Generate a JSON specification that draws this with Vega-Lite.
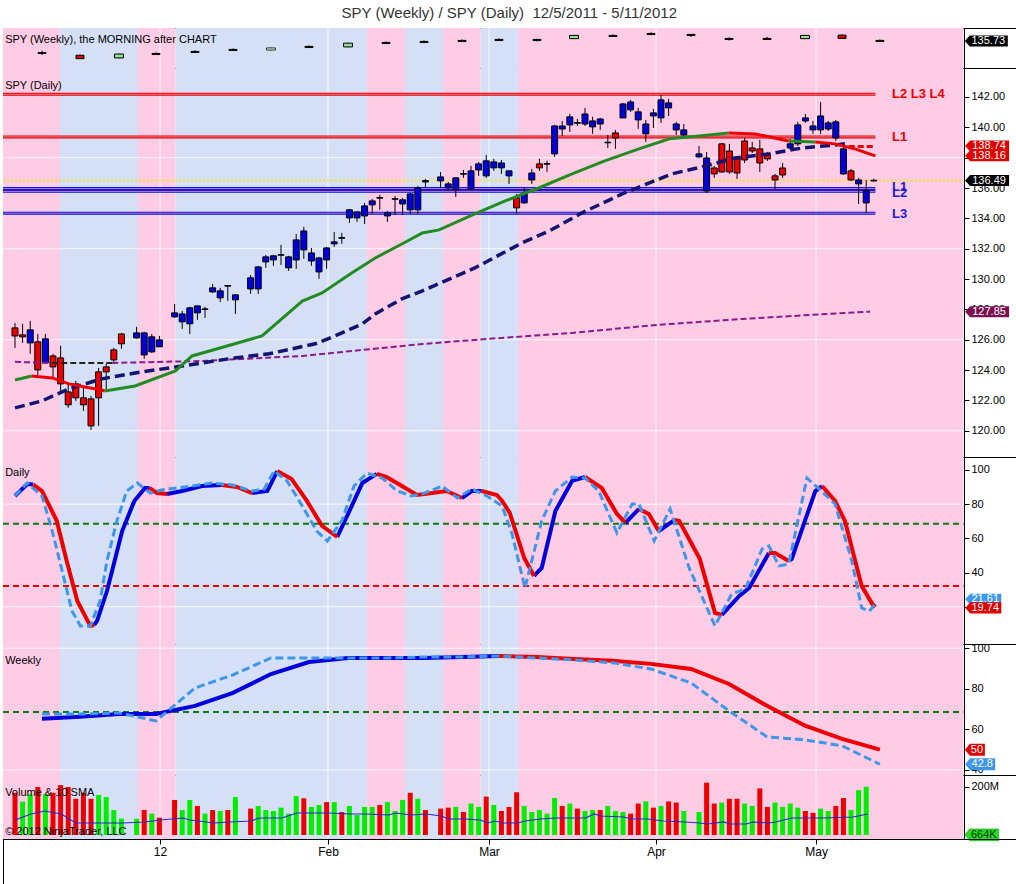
{
"$schema":"https://vega.github.io/schema/vega-lite/v6.json",
"padding":{"left":1,"top":6,"right":1,"bottom":1},
"background":"white",
"title":{"text":"SPY (Weekly) / SPY (Daily) \u00a012/5/2011 - 5/11/2012","font":"Liberation Sans","fontSize":15,"fontWeight":"normal","color":"#333333","anchor":"middle","offset":6},
"spacing":0,
"bounds":"flush",
"config":{"view":{"stroke":"black","strokeWidth":1},"scale":{"continuousPadding":0},"axis":{"labelFont":"Liberation Sans","labelFontSize":11,"labelColor":"black","tickColor":"black","domainColor":"black","grid":false,"labelOverlap":false},"text":{"font":"Liberation Sans"}},
"datasets":{
"bands":[{"a":-1.58,"b":5.92,"t":"p"},{"a":5.92,"b":16.18,"t":"b"},{"a":16.18,"b":21.12,"t":"p"},{"a":21.12,"b":46.32,"t":"b"},{"a":46.32,"b":51.32,"t":"p"},{"a":51.32,"b":56.32,"t":"b"},{"a":56.32,"b":61.25,"t":"p"},{"a":61.25,"b":66.18,"t":"b"},{"a":66.18,"b":124.8,"t":"p"}],
"months":[{"m":19.08,"n":"12"},{"m":41.18,"n":"Feb"},{"m":62.37,"n":"Mar"},{"m":84.34,"n":"Apr"},{"m":105.4,"n":"May"}],
"weekly":[
{"s":3.55,"o":126.5,"c":125.8,"h":128.1,"l":124.5,"k":"blk"},
{"s":8.55,"o":124.3,"c":121.6,"h":124.9,"l":121.2,"k":"red"},
{"s":13.68,"o":125.3,"c":122.2,"h":125.6,"l":121.9,"k":"grn"},
{"s":18.55,"o":125.8,"c":124.9,"h":126.6,"l":124.9,"k":"blk"},
{"s":23.68,"o":127.4,"c":126.5,"h":128.2,"l":126.5,"k":"blk"},
{"s":28.68,"o":129.0,"c":128.1,"h":129.8,"l":128.1,"k":"blk"},
{"s":33.68,"o":130.2,"c":128.5,"h":130.5,"l":128.3,"k":"lgr"},
{"s":38.68,"o":131.4,"c":130.5,"h":132.2,"l":130.5,"k":"blk"},
{"s":43.82,"o":134.0,"c":131.0,"h":134.3,"l":130.7,"k":"grn"},
{"s":48.82,"o":134.6,"c":133.7,"h":135.4,"l":133.7,"k":"blk"},
{"s":53.82,"o":135.4,"c":134.5,"h":136.2,"l":134.5,"k":"blk"},
{"s":58.82,"o":136.2,"c":135.3,"h":137.0,"l":135.3,"k":"blk"},
{"s":63.68,"o":137.0,"c":136.1,"h":137.8,"l":136.1,"k":"blk"},
{"s":68.68,"o":137.0,"c":136.1,"h":137.4,"l":135.4,"k":"blk"},
{"s":73.55,"o":140.2,"c":137.6,"h":140.5,"l":137.4,"k":"grn"},
{"s":78.68,"o":140.2,"c":139.3,"h":141.0,"l":139.3,"k":"blk"},
{"s":83.68,"o":141.8,"c":140.9,"h":142.6,"l":140.9,"k":"blk"},
{"s":88.95,"o":141.0,"c":140.1,"h":141.3,"l":139.0,"k":"blk"},
{"s":93.95,"o":137.8,"c":136.9,"h":138.6,"l":136.1,"k":"blk"},
{"s":98.95,"o":137.8,"c":136.9,"h":139.0,"l":136.9,"k":"blk"},
{"s":103.95,"o":140.2,"c":137.6,"h":140.5,"l":137.4,"k":"grn"},
{"s":108.82,"o":140.4,"c":137.8,"h":141.2,"l":137.8,"k":"red"},
{"s":113.8,"o":136.2,"c":135.3,"h":137.0,"l":135.3,"k":"blk"}],
"candles":[
{"s":0,"o":126.78,"c":126.25,"h":127.11,"l":125.46,"k":"r"},
{"s":1,"o":126.32,"c":126.19,"h":127.05,"l":125.79,"k":"r"},
{"s":2,"o":126.65,"c":125.79,"h":127.24,"l":125.07,"k":"b"},
{"s":3,"o":125.86,"c":124.01,"h":126.38,"l":123.68,"k":"r"},
{"s":4,"o":126.06,"c":124.47,"h":126.38,"l":124.41,"k":"b"},
{"s":5,"o":124.93,"c":124.21,"h":125.07,"l":123.45,"k":"r"},
{"s":6,"o":124.80,"c":123.09,"h":125.60,"l":122.63,"k":"r"},
{"s":7,"o":122.56,"c":121.71,"h":123.09,"l":121.51,"k":"r"},
{"s":8,"o":123.09,"c":122.17,"h":123.29,"l":121.97,"k":"r"},
{"s":9,"o":122.17,"c":121.71,"h":122.83,"l":121.31,"k":"r"},
{"s":10,"o":122.10,"c":120.32,"h":122.30,"l":120.06,"k":"r"},
{"s":11,"o":123.88,"c":122.17,"h":124.14,"l":120.32,"k":"r"},
{"s":12,"o":124.21,"c":123.88,"h":124.41,"l":122.63,"k":"r"},
{"s":13,"o":125.33,"c":124.67,"h":125.46,"l":124.41,"k":"r"},
{"s":14,"o":126.38,"c":125.73,"h":126.45,"l":125.40,"k":"r"},
{"s":16,"o":126.45,"c":126.12,"h":126.85,"l":126.06,"k":"b"},
{"s":17,"o":126.45,"c":125.00,"h":126.52,"l":124.74,"k":"b"},
{"s":18,"o":126.19,"c":125.20,"h":126.38,"l":125.13,"k":"b"},
{"s":19,"o":125.99,"c":125.53,"h":126.25,"l":125.53,"k":"b"},
{"s":21,"o":127.77,"c":127.51,"h":128.36,"l":127.44,"k":"b"},
{"s":22,"o":127.70,"c":127.18,"h":127.90,"l":126.71,"k":"b"},
{"s":23,"o":128.10,"c":127.05,"h":128.17,"l":126.38,"k":"b"},
{"s":24,"o":128.23,"c":127.77,"h":128.23,"l":127.31,"k":"b"},
{"s":25,"o":128.03,"c":128.00,"h":128.17,"l":127.44,"k":"b"},
{"s":26,"o":129.42,"c":129.15,"h":129.68,"l":129.09,"k":"b"},
{"s":27,"o":129.22,"c":128.76,"h":129.42,"l":128.49,"k":"b"},
{"s":28,"o":129.57,"c":129.53,"h":129.61,"l":128.56,"k":"b"},
{"s":29,"o":128.96,"c":128.63,"h":128.96,"l":127.70,"k":"b"},
{"s":31,"o":130.08,"c":129.35,"h":130.27,"l":129.02,"k":"b"},
{"s":32,"o":130.80,"c":129.35,"h":130.87,"l":129.02,"k":"b"},
{"s":33,"o":131.46,"c":131.13,"h":131.59,"l":130.74,"k":"b"},
{"s":34,"o":131.53,"c":131.26,"h":131.59,"l":130.87,"k":"b"},
{"s":35,"o":131.61,"c":131.57,"h":132.25,"l":130.93,"k":"b"},
{"s":36,"o":131.46,"c":130.74,"h":131.53,"l":130.54,"k":"b"},
{"s":37,"o":132.58,"c":131.26,"h":132.97,"l":130.67,"k":"b"},
{"s":38,"o":133.17,"c":131.92,"h":133.44,"l":131.33,"k":"b"},
{"s":39,"o":131.72,"c":131.19,"h":132.05,"l":130.87,"k":"b"},
{"s":40,"o":131.39,"c":130.47,"h":131.46,"l":130.01,"k":"b"},
{"s":41,"o":132.05,"c":131.26,"h":132.12,"l":130.67,"k":"b"},
{"s":42,"o":132.45,"c":132.32,"h":133.10,"l":132.12,"k":"b"},
{"s":43,"o":132.73,"c":132.69,"h":133.04,"l":132.32,"k":"b"},
{"s":44,"o":134.56,"c":134.03,"h":134.62,"l":133.70,"k":"b"},
{"s":45,"o":134.42,"c":134.03,"h":134.49,"l":133.77,"k":"b"},
{"s":46,"o":134.82,"c":134.16,"h":135.02,"l":133.63,"k":"b"},
{"s":47,"o":135.15,"c":134.89,"h":135.28,"l":134.29,"k":"b"},
{"s":48,"o":135.37,"c":135.33,"h":135.55,"l":134.56,"k":"b"},
{"s":49,"o":134.36,"c":134.16,"h":134.49,"l":133.77,"k":"b"},
{"s":50,"o":135.30,"c":135.26,"h":135.48,"l":134.23,"k":"b"},
{"s":51,"o":135.22,"c":134.95,"h":135.35,"l":134.23,"k":"b"},
{"s":52,"o":135.61,"c":134.56,"h":135.68,"l":134.29,"k":"b"},
{"s":53,"o":136.01,"c":134.56,"h":136.14,"l":134.29,"k":"b"},
{"s":54,"o":136.49,"c":136.40,"h":136.60,"l":136.01,"k":"b"},
{"s":56,"o":136.73,"c":136.47,"h":137.06,"l":136.01,"k":"b"},
{"s":57,"o":136.27,"c":136.01,"h":136.40,"l":135.81,"k":"b"},
{"s":58,"o":136.67,"c":135.88,"h":136.67,"l":135.41,"k":"b"},
{"s":59,"o":136.95,"c":136.91,"h":137.19,"l":136.67,"k":"b"},
{"s":60,"o":137.13,"c":135.94,"h":137.46,"l":135.88,"k":"b"},
{"s":61,"o":137.59,"c":137.19,"h":137.72,"l":136.80,"k":"b"},
{"s":62,"o":137.79,"c":136.80,"h":138.18,"l":136.67,"k":"b"},
{"s":63,"o":137.72,"c":137.33,"h":137.92,"l":137.13,"k":"b"},
{"s":64,"o":137.65,"c":137.33,"h":137.85,"l":136.93,"k":"b"},
{"s":65,"o":137.13,"c":136.80,"h":137.13,"l":136.27,"k":"b"},
{"s":66,"o":135.35,"c":134.69,"h":135.61,"l":134.29,"k":"r"},
{"s":67,"o":135.61,"c":135.02,"h":136.01,"l":134.95,"k":"b"},
{"s":68,"o":136.99,"c":136.53,"h":137.26,"l":136.27,"k":"b"},
{"s":69,"o":137.59,"c":137.33,"h":137.92,"l":137.13,"k":"r"},
{"s":70,"o":137.61,"c":137.57,"h":137.79,"l":137.06,"k":"b"},
{"s":71,"o":140.09,"c":138.25,"h":140.16,"l":138.05,"k":"b"},
{"s":72,"o":140.09,"c":139.89,"h":140.42,"l":139.43,"k":"b"},
{"s":73,"o":140.69,"c":140.16,"h":140.88,"l":139.70,"k":"b"},
{"s":74,"o":140.31,"c":140.27,"h":140.55,"l":140.09,"k":"b"},
{"s":75,"o":140.88,"c":140.22,"h":141.28,"l":140.09,"k":"b"},
{"s":76,"o":140.42,"c":140.03,"h":140.69,"l":139.57,"k":"b"},
{"s":77,"o":140.55,"c":140.22,"h":140.62,"l":139.83,"k":"b"},
{"s":78,"o":139.02,"c":138.98,"h":139.50,"l":138.64,"k":"b"},
{"s":79,"o":139.63,"c":139.30,"h":139.83,"l":138.58,"k":"r"},
{"s":80,"o":141.54,"c":140.62,"h":141.61,"l":140.62,"k":"b"},
{"s":81,"o":141.67,"c":141.15,"h":141.81,"l":141.02,"k":"b"},
{"s":82,"o":141.02,"c":140.49,"h":141.28,"l":139.90,"k":"b"},
{"s":83,"o":140.22,"c":139.57,"h":140.49,"l":139.04,"k":"b"},
{"s":84,"o":140.95,"c":140.75,"h":141.21,"l":139.96,"k":"b"},
{"s":85,"o":141.81,"c":140.62,"h":142.13,"l":140.29,"k":"b"},
{"s":86,"o":141.61,"c":141.28,"h":141.87,"l":140.75,"k":"b"},
{"s":87,"o":140.22,"c":139.83,"h":140.36,"l":139.50,"k":"b"},
{"s":88,"o":139.83,"c":139.50,"h":140.22,"l":139.37,"k":"b"},
{"s":90,"o":138.25,"c":138.05,"h":138.77,"l":137.98,"k":"b"},
{"s":91,"o":137.98,"c":135.81,"h":138.38,"l":135.68,"k":"b"},
{"s":92,"o":137.32,"c":136.93,"h":137.45,"l":136.67,"k":"r"},
{"s":93,"o":138.91,"c":137.06,"h":138.97,"l":136.99,"k":"r"},
{"s":94,"o":138.44,"c":137.06,"h":138.91,"l":136.93,"k":"r"},
{"s":95,"o":137.92,"c":136.99,"h":138.05,"l":136.60,"k":"r"},
{"s":96,"o":139.10,"c":137.85,"h":139.30,"l":137.65,"k":"r"},
{"s":97,"o":138.64,"c":138.44,"h":139.04,"l":138.31,"k":"r"},
{"s":98,"o":138.58,"c":137.65,"h":139.17,"l":137.06,"k":"r"},
{"s":99,"o":138.25,"c":137.92,"h":138.38,"l":137.79,"k":"r"},
{"s":100,"o":136.80,"c":136.53,"h":136.93,"l":135.94,"k":"r"},
{"s":101,"o":137.32,"c":136.86,"h":137.65,"l":136.67,"k":"r"},
{"s":102,"o":138.91,"c":138.64,"h":139.24,"l":138.51,"k":"b"},
{"s":103,"o":140.16,"c":138.91,"h":140.36,"l":138.77,"k":"b"},
{"s":104,"o":140.62,"c":140.42,"h":140.88,"l":140.29,"k":"b"},
{"s":105,"o":140.09,"c":139.83,"h":140.42,"l":139.57,"k":"b"},
{"s":106,"o":140.75,"c":139.83,"h":141.67,"l":139.57,"k":"b"},
{"s":107,"o":140.29,"c":139.89,"h":140.42,"l":139.76,"k":"b"},
{"s":108,"o":140.36,"c":139.30,"h":140.49,"l":139.10,"k":"b"},
{"s":109,"o":138.58,"c":136.93,"h":138.77,"l":136.86,"k":"b"},
{"s":110,"o":137.13,"c":136.53,"h":137.26,"l":136.47,"k":"r"},
{"s":111,"o":136.53,"c":136.27,"h":136.67,"l":134.95,"k":"b"},
{"s":112,"o":135.81,"c":135.02,"h":136.53,"l":134.36,"k":"b"},
{"s":113,"o":136.51,"c":136.47,"h":136.62,"l":136.40,"k":"x"}],
"levels":[{"v":142.18,"k":"r"},{"v":139.37,"k":"r"},{"v":135.97,"k":"b"},{"v":135.78,"k":"b"},{"v":134.34,"k":"b"}],
"sma20":[
{"s":0,"v":123.35,"g":"1","k":"up"},{"s":2.2,"v":123.61,"g":"1","k":"up"},
{"s":2.2,"v":123.61,"g":"2","k":"dn"},{"s":4.9,"v":123.48,"g":"2","k":"dn"},{"s":7.1,"v":123.09,"g":"2","k":"dn"},{"s":9.2,"v":122.89,"g":"2","k":"dn"},{"s":11.4,"v":122.69,"g":"2","k":"dn"},{"s":11.8,"v":122.62,"g":"2","k":"dn"},
{"s":11.8,"v":122.62,"g":"3","k":"up"},{"s":15.8,"v":122.95,"g":"3","k":"up"},{"s":21.1,"v":123.94,"g":"3","k":"up"},{"s":23.3,"v":124.93,"g":"3","k":"up"},{"s":30.2,"v":125.92,"g":"3","k":"up"},{"s":32.5,"v":126.25,"g":"3","k":"up"},{"s":37.8,"v":128.55,"g":"3","k":"up"},{"s":40.4,"v":129.08,"g":"3","k":"up"},{"s":44.3,"v":130.40,"g":"3","k":"up"},{"s":47.4,"v":131.39,"g":"3","k":"up"},{"s":50.9,"v":132.31,"g":"3","k":"up"},{"s":53.6,"v":133.04,"g":"3","k":"up"},{"s":55.8,"v":133.24,"g":"3","k":"up"},{"s":60.5,"v":134.29,"g":"3","k":"up"},{"s":64.5,"v":135.15,"g":"3","k":"up"},{"s":68.9,"v":136.0,"g":"3","k":"up"},{"s":73.3,"v":136.93,"g":"3","k":"up"},{"s":77.6,"v":137.79,"g":"3","k":"up"},{"s":82.1,"v":138.58,"g":"3","k":"up"},{"s":86.1,"v":139.24,"g":"3","k":"up"},{"s":90,"v":139.43,"g":"3","k":"up"},{"s":93.9,"v":139.63,"g":"3","k":"up"},
{"s":93.9,"v":139.63,"g":"4","k":"dn"},{"s":97.4,"v":139.56,"g":"4","k":"dn"},{"s":101.8,"v":139.10,"g":"4","k":"dn"},
{"s":101.8,"v":139.10,"g":"5","k":"up"},{"s":105.3,"v":139.04,"g":"5","k":"up"},
{"s":105.3,"v":139.04,"g":"6","k":"dn"},{"s":107.9,"v":138.91,"g":"6","k":"dn"},{"s":110.5,"v":138.58,"g":"6","k":"dn"},{"s":113.2,"v":138.12,"g":"6","k":"dn"}],
"sma50":[{"s":0,"v":121.51},{"s":3.55,"v":121.97},{"s":7.1,"v":122.76},{"s":11.4,"v":123.42},{"s":15.8,"v":123.81},{"s":22,"v":124.27},{"s":28.9,"v":124.80},{"s":33.4,"v":125.07},{"s":39.5,"v":125.73},{"s":42.1,"v":126.25},{"s":45.7,"v":127.04},{"s":47.4,"v":127.70},{"s":50.9,"v":128.69},{"s":53.6,"v":129.22},{"s":60.5,"v":130.73},{"s":66.7,"v":132.38},{"s":70.3,"v":133.17},{"s":74.6,"v":134.36},{"s":79.9,"v":135.61},{"s":86.4,"v":136.93},{"s":90.4,"v":137.39},{"s":94.7,"v":137.98},{"s":99.2,"v":138.25},{"s":103.6,"v":138.64},{"s":107.9,"v":138.84},{"s":109.2,"v":138.91}],
"sma200":[{"s":0,"v":124.54,"g":"a"},{"s":4.9,"v":124.47,"g":"a"},{"s":4.9,"v":124.47,"g":"k"},{"s":12.8,"v":124.47,"g":"k"},{"s":12.8,"v":124.47,"g":"b"},{"s":24.6,"v":124.6,"g":"b"},{"s":37.8,"v":124.93,"g":"b"},{"s":53.6,"v":125.72,"g":"b"},{"s":62.1,"v":126.05,"g":"b"},{"s":73.3,"v":126.45,"g":"b"},{"s":84.5,"v":126.98,"g":"b"},{"s":95.7,"v":127.37,"g":"b"},{"s":104.9,"v":127.64,"g":"b"},{"s":112.5,"v":127.85,"g":"b"}],
"dS":[
{"s":0,"v":84.8,"g":"A","k":"b"},{"s":1.6,"v":91.8,"g":"A","k":"b"},{"s":2.4,"v":91.5,"g":"A","k":"b"},
{"s":2.4,"v":91.5,"g":"B","k":"r"},{"s":3.55,"v":87.7,"g":"B","k":"r"},{"s":5.5,"v":70.2,"g":"B","k":"r"},{"s":6.8,"v":46.8,"g":"B","k":"r"},{"s":8.2,"v":23.4,"g":"B","k":"r"},{"s":9.9,"v":8.8,"g":"B","k":"r"},{"s":10.4,"v":9.2,"g":"B","k":"r"},
{"s":10.4,"v":9.2,"g":"C","k":"b"},{"s":10.8,"v":11.7,"g":"C","k":"b"},{"s":12.1,"v":29.2,"g":"C","k":"b"},{"s":14.1,"v":64.3,"g":"C","k":"b"},{"s":15.7,"v":81.9,"g":"C","k":"b"},{"s":17.1,"v":89.5,"g":"C","k":"b"},{"s":17.7,"v":89.5,"g":"C","k":"b"},
{"s":17.7,"v":89.5,"g":"D","k":"r"},{"s":18.7,"v":86.5,"g":"D","k":"r"},{"s":20,"v":86,"g":"D","k":"r"},
{"s":20,"v":86,"g":"E","k":"b"},{"s":22,"v":87.7,"g":"E","k":"b"},{"s":24.6,"v":90.6,"g":"E","k":"b"},{"s":27.2,"v":91.2,"g":"E","k":"b"},
{"s":27.2,"v":91.2,"g":"F","k":"r"},{"s":29.2,"v":90.1,"g":"F","k":"r"},{"s":31.2,"v":86.5,"g":"F","k":"r"},
{"s":31.2,"v":86.5,"g":"G","k":"b"},{"s":33.2,"v":87.7,"g":"G","k":"b"},{"s":34.5,"v":99.4,"g":"G","k":"b"},
{"s":34.5,"v":99.4,"g":"H","k":"r"},{"s":36.4,"v":94.7,"g":"H","k":"r"},{"s":38.4,"v":81.9,"g":"H","k":"r"},{"s":40.4,"v":67.3,"g":"H","k":"r"},{"s":42.4,"v":60.8,"g":"H","k":"r"},
{"s":42.4,"v":60.8,"g":"I","k":"b"},{"s":43.7,"v":73.1,"g":"I","k":"b"},{"s":45.7,"v":92.4,"g":"I","k":"b"},{"s":47.6,"v":97.7,"g":"I","k":"b"},
{"s":47.6,"v":97.7,"g":"J","k":"r"},{"s":48.9,"v":95.9,"g":"J","k":"r"},{"s":50.9,"v":90.6,"g":"J","k":"r"},{"s":52.9,"v":85.4,"g":"J","k":"r"},{"s":54.9,"v":86.5,"g":"J","k":"r"},{"s":56.8,"v":87.7,"g":"J","k":"r"},{"s":58.8,"v":83.6,"g":"J","k":"r"},
{"s":58.8,"v":83.6,"g":"K","k":"b"},{"s":60.1,"v":87.7,"g":"K","k":"b"},{"s":61.4,"v":87.7,"g":"K","k":"b"},
{"s":61.4,"v":87.7,"g":"L","k":"r"},{"s":63.4,"v":85.4,"g":"L","k":"r"},{"s":64.1,"v":81.9,"g":"L","k":"r"},{"s":65.1,"v":74.9,"g":"L","k":"r"},{"s":67,"v":48.5,"g":"L","k":"r"},{"s":68.3,"v":38,"g":"L","k":"r"},
{"s":68.3,"v":38,"g":"M","k":"b"},{"s":69.3,"v":42.7,"g":"M","k":"b"},{"s":71.1,"v":76,"g":"M","k":"b"},{"s":73.3,"v":93.6,"g":"M","k":"b"},{"s":75,"v":95.9,"g":"M","k":"b"},
{"s":75,"v":95.9,"g":"N","k":"r"},{"s":77.2,"v":89.5,"g":"N","k":"r"},{"s":79.2,"v":74.3,"g":"N","k":"r"},{"s":80.3,"v":69,"g":"N","k":"r"},
{"s":80.3,"v":69,"g":"O","k":"b"},{"s":82.1,"v":77.2,"g":"O","k":"b"},
{"s":82.1,"v":77.2,"g":"P","k":"r"},{"s":83.4,"v":74.3,"g":"P","k":"r"},{"s":84.7,"v":64.3,"g":"P","k":"r"},
{"s":84.7,"v":64.3,"g":"Q","k":"b"},{"s":86.8,"v":70.8,"g":"Q","k":"b"},
{"s":86.8,"v":70.8,"g":"R","k":"r"},{"s":87.4,"v":70.2,"g":"R","k":"r"},{"s":90.1,"v":48,"g":"R","k":"r"},{"s":92.1,"v":16.4,"g":"R","k":"r"},{"s":93,"v":15.2,"g":"R","k":"r"},
{"s":93,"v":15.2,"g":"S","k":"b"},{"s":95.3,"v":26.3,"g":"S","k":"b"},{"s":96.6,"v":31,"g":"S","k":"b"},{"s":99.2,"v":51.5,"g":"S","k":"b"},
{"s":99.2,"v":51.5,"g":"T","k":"r"},{"s":100,"v":51.5,"g":"T","k":"r"},{"s":101.8,"v":46.8,"g":"T","k":"r"},
{"s":101.8,"v":46.8,"g":"U","k":"b"},{"s":102.2,"v":48,"g":"U","k":"b"},{"s":105.3,"v":87.7,"g":"U","k":"b"},{"s":106.2,"v":90.6,"g":"U","k":"b"},
{"s":106.2,"v":90.6,"g":"V","k":"r"},{"s":107.9,"v":81.9,"g":"V","k":"r"},{"s":109.2,"v":70.2,"g":"V","k":"r"},{"s":111.4,"v":32.2,"g":"V","k":"r"},{"s":112.8,"v":21.6,"g":"V","k":"r"},{"s":113.2,"v":19.74,"g":"V","k":"r"}],
"dK":[{"s":0,"v":84.8},{"s":1.6,"v":92.4},{"s":3.55,"v":84.8},{"s":4.9,"v":64.3},{"s":6.2,"v":40.9},{"s":7.5,"v":17.5},{"s":8.6,"v":8.8},{"s":9.9,"v":8.8},{"s":11.2,"v":23.4},{"s":12.1,"v":46.8},{"s":13.4,"v":70.2},{"s":14.7,"v":87.7},{"s":16.1,"v":92.4},{"s":17.8,"v":86.5},{"s":19.3,"v":88.3},{"s":21.3,"v":89.5},{"s":23.3,"v":90.6},{"s":25.9,"v":92.4},{"s":28.6,"v":91.2},{"s":31.2,"v":87.7},{"s":32.8,"v":88.9},{"s":34.1,"v":99.4},{"s":35.8,"v":93.6},{"s":37.8,"v":78.9},{"s":39.7,"v":64.3},{"s":41.1,"v":58.5},{"s":43,"v":70.2},{"s":44.6,"v":90.6},{"s":46.3,"v":98.2},{"s":48.3,"v":95.3},{"s":50.3,"v":87.7},{"s":52.2,"v":84.8},{"s":53.6,"v":86.0},{"s":56.2,"v":90.6},{"s":58.2,"v":83.6},{"s":60.1,"v":88.9},{"s":62.1,"v":84.8},{"s":64.1,"v":78.9},{"s":65.4,"v":62.6},{"s":67.1,"v":31.0},{"s":69.3,"v":70.2},{"s":71.1,"v":87.7},{"s":73.3,"v":95.9},{"s":75,"v":95.3},{"s":76.8,"v":87.7},{"s":79.2,"v":63.2},{"s":81.2,"v":80.1},{"s":82.1,"v":80.1},{"s":84.1,"v":58.5},{"s":86.2,"v":77.2},{"s":88.7,"v":42.7},{"s":92.1,"v":8.8},{"s":94.3,"v":27.5},{"s":96.1,"v":30.4},{"s":98.3,"v":53.8},{"s":99.2,"v":55.6},{"s":100.5,"v":43.9},{"s":101.8,"v":45.0},{"s":104.2,"v":95.3},{"s":105.8,"v":88.9},{"s":107.9,"v":80.1},{"s":110.1,"v":46.8},{"s":111.4,"v":19.3},{"s":112.4,"v":17.5},{"s":113.2,"v":21.6}],
"wS":[{"s":3.55,"v":65.2,"g":"a","k":"b"},{"s":8.55,"v":66.2,"g":"a","k":"b"},{"s":13.68,"v":67.6,"g":"a","k":"b"},{"s":18.55,"v":67.6,"g":"a","k":"b"},{"s":23.68,"v":71.6,"g":"a","k":"b"},{"s":28.68,"v":78.0,"g":"a","k":"b"},{"s":33.68,"v":87.3,"g":"a","k":"b"},{"s":38.68,"v":93.2,"g":"a","k":"b"},{"s":43.82,"v":95.2,"g":"a","k":"b"},{"s":48.82,"v":95.2,"g":"a","k":"b"},{"s":53.82,"v":95.2,"g":"a","k":"b"},{"s":58.82,"v":95.7,"g":"a","k":"b"},{"s":63.68,"v":96.2,"g":"a","k":"b"},
{"s":63.68,"v":96.2,"g":"b","k":"r"},{"s":68.68,"v":95.7,"g":"b","k":"r"},{"s":73.55,"v":94.7,"g":"b","k":"r"},{"s":78.68,"v":93.8,"g":"b","k":"r"},{"s":83.68,"v":92.3,"g":"b","k":"r"},{"s":88.95,"v":89.8,"g":"b","k":"r"},{"s":93.95,"v":82.4,"g":"b","k":"r"},{"s":98.95,"v":71.6,"g":"b","k":"r"},{"s":103.95,"v":61.8,"g":"b","k":"r"},{"s":108.82,"v":55.3,"g":"b","k":"r"},{"s":113.8,"v":50,"g":"b","k":"r"}],
"wK":[{"s":3.55,"v":67.6},{"s":8.55,"v":67.6},{"s":13.68,"v":68.1},{"s":18.55,"v":64.2},{"s":23.68,"v":80.4},{"s":28.68,"v":86.9},{"s":33.68,"v":95.2},{"s":38.68,"v":95.2},{"s":43.82,"v":95.2},{"s":48.82,"v":95.2},{"s":53.82,"v":95.7},{"s":58.82,"v":95.7},{"s":63.68,"v":96.2},{"s":68.68,"v":95.2},{"s":73.55,"v":94.2},{"s":78.68,"v":92.8},{"s":83.68,"v":89.8},{"s":88.95,"v":82.9},{"s":93.95,"v":69.1},{"s":98.95,"v":56.3},{"s":103.95,"v":54.8},{"s":108.82,"v":51.9},{"s":113.8,"v":42.8}],
"vol":[{"s":0,"v":176,"k":"d"},{"s":1,"v":139,"k":"u"},{"s":2,"v":170,"k":"u"},{"s":3,"v":200,"k":"d"},{"s":4,"v":170,"k":"u"},{"s":5,"v":176,"k":"d"},{"s":6,"v":208,"k":"d"},{"s":7,"v":200,"k":"d"},{"s":8,"v":151,"k":"d"},{"s":9,"v":176,"k":"d"},{"s":10,"v":151,"k":"d"},{"s":11,"v":167,"k":"u"},{"s":12,"v":158,"k":"u"},{"s":13,"v":104,"k":"u"},{"s":14,"v":68,"k":"u"},{"s":16,"v":68,"k":"u"},{"s":17,"v":104,"k":"d"},{"s":18,"v":89,"k":"u"},{"s":19,"v":72,"k":"d"},{"s":21,"v":146,"k":"d"},{"s":22,"v":104,"k":"u"},{"s":23,"v":146,"k":"u"},{"s":24,"v":121,"k":"d"},{"s":25,"v":89,"k":"u"},{"s":26,"v":104,"k":"d"},{"s":27,"v":100,"k":"u"},{"s":28,"v":104,"k":"d"},{"s":29,"v":158,"k":"u"},{"s":31,"v":110,"k":"d"},{"s":32,"v":121,"k":"u"},{"s":33,"v":104,"k":"u"},{"s":34,"v":100,"k":"u"},{"s":35,"v":114,"k":"u"},{"s":36,"v":89,"k":"u"},{"s":37,"v":162,"k":"u"},{"s":38,"v":153,"k":"d"},{"s":39,"v":117,"k":"u"},{"s":40,"v":125,"k":"u"},{"s":41,"v":137,"k":"d"},{"s":42,"v":137,"k":"u"},{"s":43,"v":96,"k":"d"},{"s":44,"v":121,"k":"u"},{"s":45,"v":83,"k":"u"},{"s":46,"v":117,"k":"u"},{"s":47,"v":117,"k":"u"},{"s":48,"v":125,"k":"d"},{"s":49,"v":137,"k":"u"},{"s":50,"v":100,"k":"u"},{"s":51,"v":146,"k":"u"},{"s":52,"v":176,"k":"d"},{"s":53,"v":151,"k":"u"},{"s":54,"v":104,"k":"d"},{"s":56,"v":110,"k":"d"},{"s":57,"v":114,"k":"d"},{"s":58,"v":117,"k":"u"},{"s":59,"v":96,"k":"d"},{"s":60,"v":131,"k":"u"},{"s":61,"v":117,"k":"u"},{"s":62,"v":160,"k":"d"},{"s":63,"v":125,"k":"u"},{"s":64,"v":100,"k":"d"},{"s":65,"v":117,"k":"d"},{"s":66,"v":178,"k":"d"},{"s":67,"v":121,"k":"u"},{"s":68,"v":96,"k":"u"},{"s":69,"v":104,"k":"u"},{"s":70,"v":89,"k":"u"},{"s":71,"v":154,"k":"u"},{"s":72,"v":121,"k":"d"},{"s":73,"v":131,"k":"u"},{"s":74,"v":110,"k":"d"},{"s":75,"v":100,"k":"u"},{"s":76,"v":104,"k":"u"},{"s":77,"v":104,"k":"d"},{"s":78,"v":121,"k":"u"},{"s":79,"v":100,"k":"u"},{"s":80,"v":96,"k":"u"},{"s":81,"v":89,"k":"d"},{"s":82,"v":131,"k":"d"},{"s":83,"v":140,"k":"u"},{"s":84,"v":114,"k":"d"},{"s":85,"v":121,"k":"u"},{"s":86,"v":140,"k":"d"},{"s":87,"v":135,"k":"d"},{"s":88,"v":100,"k":"u"},{"s":90,"v":96,"k":"u"},{"s":91,"v":218,"k":"d"},{"s":92,"v":131,"k":"d"},{"s":93,"v":135,"k":"u"},{"s":94,"v":151,"k":"d"},{"s":95,"v":151,"k":"d"},{"s":96,"v":131,"k":"u"},{"s":97,"v":121,"k":"u"},{"s":98,"v":194,"k":"d"},{"s":99,"v":117,"k":"d"},{"s":100,"v":135,"k":"u"},{"s":101,"v":117,"k":"u"},{"s":102,"v":131,"k":"u"},{"s":103,"v":114,"k":"u"},{"s":104,"v":100,"k":"d"},{"s":105,"v":92,"k":"d"},{"s":106,"v":110,"k":"u"},{"s":107,"v":100,"k":"u"},{"s":108,"v":121,"k":"d"},{"s":109,"v":154,"k":"d"},{"s":110,"v":104,"k":"u"},{"s":111,"v":187,"k":"u"},{"s":112,"v":201,"k":"u"}],
"volsma":[{"s":0,"v":62.5},{"s":2.1,"v":87.5},{"s":3.9,"v":100},{"s":6.1,"v":87.5},{"s":8,"v":50},{"s":10,"v":50},{"s":14.2,"v":50},{"s":17.1,"v":54.2},{"s":19.1,"v":62.5},{"s":22.1,"v":70.8},{"s":23,"v":62.5},{"s":26.2,"v":50},{"s":28.2,"v":54.2},{"s":31.1,"v":58.3},{"s":32.1,"v":70.8},{"s":35.1,"v":70.8},{"s":37.1,"v":91.7},{"s":41.1,"v":91.7},{"s":44.1,"v":87.5},{"s":46.2,"v":87.5},{"s":49.2,"v":83.3},{"s":50.1,"v":91.7},{"s":52.1,"v":83.3},{"s":54.1,"v":87.5},{"s":56.1,"v":79.2},{"s":57.1,"v":66.7},{"s":59.2,"v":66.7},{"s":61.2,"v":62.5},{"s":62.2,"v":50},{"s":63.2,"v":58.3},{"s":64.2,"v":50},{"s":66.2,"v":50},{"s":67.1,"v":58.3},{"s":69.1,"v":66.7},{"s":71.2,"v":70.8},{"s":75.1,"v":70.8},{"s":76.2,"v":87.5},{"s":77.1,"v":79.2},{"s":80.1,"v":75},{"s":81.2,"v":66.7},{"s":83.3,"v":66.7},{"s":85.3,"v":58.3},{"s":88.2,"v":54.2},{"s":90.1,"v":50},{"s":91.2,"v":45.8},{"s":93.2,"v":54.2},{"s":94.1,"v":45.8},{"s":96.2,"v":45.8},{"s":97.1,"v":54.2},{"s":99.2,"v":50},{"s":100.1,"v":54.2},{"s":102.2,"v":70.8},{"s":106.3,"v":70.8},{"s":110.3,"v":75},{"s":112.2,"v":87.5}]
},
"vconcat":[
{"width":1014,"height":40,"layer":[
 {"data":{"values":[{"v":120}]},"mark":{"type":"rule","opacity":0},"encoding":{"y":{"field":"v","type":"quantitative","scale":{"domain":[114.13,146.13],"nice":false,"zero":false},"axis":{"orient":"right","offset":-53,"labels":false,"ticks":false,"domain":true,"title":null}}}},
 {"data":{"name":"bands"},"mark":{"type":"rect"},"encoding":{"x":{"field":"a","type":"quantitative","scale":{"domain":[-1.58,131.84],"nice":false,"zero":false},"axis":null},"x2":{"field":"b"},"color":{"field":"t","type":"nominal","scale":{"domain":["p","b"],"range":["#FFCCE6","#D5E0F6"]},"legend":null}}},
 {"data":{"name":"months"},"mark":{"type":"rule","color":"white","strokeWidth":1,"opacity":0.8},"encoding":{"x":{"field":"m","type":"quantitative","scale":{"domain":[-1.58,131.84],"nice":false,"zero":false},"axis":null}}},
 {"data":{"name":"weekly"},"mark":{"type":"rule","color":"black","strokeWidth":1},"encoding":{"x":{"field":"s","type":"quantitative","scale":{"domain":[-1.58,131.84],"nice":false,"zero":false},"axis":null},"y":{"field":"l","type":"quantitative","scale":{"domain":[114.13,146.13],"nice":false,"zero":false}},"y2":{"field":"h"}}},
 {"data":{"name":"weekly"},"transform":[{"filter":"datum.k=='blk'"}],"mark":{"type":"bar","orient":"vertical","size":8,"fill":"black","stroke":"black","strokeWidth":1},"encoding":{"x":{"field":"s","type":"quantitative","scale":{"domain":[-1.58,131.84],"nice":false,"zero":false},"axis":null},"y":{"field":"o","type":"quantitative","scale":{"domain":[114.13,146.13],"nice":false,"zero":false}},"y2":{"field":"c"}}},
 {"data":{"name":"weekly"},"transform":[{"filter":"datum.k=='red'"}],"mark":{"type":"bar","orient":"vertical","size":8,"fill":"#E00000","stroke":"black","strokeWidth":1},"encoding":{"x":{"field":"s","type":"quantitative","scale":{"domain":[-1.58,131.84],"nice":false,"zero":false},"axis":null},"y":{"field":"o","type":"quantitative","scale":{"domain":[114.13,146.13],"nice":false,"zero":false}},"y2":{"field":"c"}}},
 {"data":{"name":"weekly"},"transform":[{"filter":"datum.k=='grn'"}],"mark":{"type":"bar","orient":"vertical","size":9,"fill":"#8FE38F","stroke":"black","strokeWidth":1},"encoding":{"x":{"field":"s","type":"quantitative","scale":{"domain":[-1.58,131.84],"nice":false,"zero":false},"axis":null},"y":{"field":"o","type":"quantitative","scale":{"domain":[114.13,146.13],"nice":false,"zero":false}},"y2":{"field":"c"}}},
 {"data":{"name":"weekly"},"transform":[{"filter":"datum.k=='lgr'"}],"mark":{"type":"bar","orient":"vertical","size":9,"fill":"#D8F5D8","stroke":"#333333","strokeWidth":1},"encoding":{"x":{"field":"s","type":"quantitative","scale":{"domain":[-1.58,131.84],"nice":false,"zero":false},"axis":null},"y":{"field":"o","type":"quantitative","scale":{"domain":[114.13,146.13],"nice":false,"zero":false}},"y2":{"field":"c"}}},
 {"data":{"values":[{"t":"SPY (Weekly), the MORNING after CHART"}]},"mark":{"type":"text","align":"left","baseline":"middle","fontSize":11,"color":"black"},"encoding":{"x":{"datum":-1.3,"type":"quantitative","scale":{"domain":[-1.58,131.84],"nice":false,"zero":false},"axis":null},"y":{"datum":136.5,"type":"quantitative","scale":{"domain":[114.13,146.13],"nice":false,"zero":false}},"text":{"field":"t"}}},
 {"data":{"values":[{"v":135.73,"t":"135.73"}]},"mark":{"type":"point","shape":"M -1 0 L -0.77 -0.26 L 1 -0.26 L 1 0.26 L -0.77 0.26 Z","size":1849,"filled":true,"fill":"black","opacity":1,"strokeWidth":0},"encoding":{"x":{"datum":127.8,"type":"quantitative","scale":{"domain":[-1.58,131.84],"nice":false,"zero":false},"axis":null},"y":{"field":"v","type":"quantitative","scale":{"domain":[114.13,146.13],"nice":false,"zero":false}}}},
 {"data":{"values":[{"v":135.73,"t":"135.73"}]},"mark":{"type":"text","align":"center","baseline":"middle","dx":2,"fontSize":11,"color":"white"},"encoding":{"x":{"datum":127.8,"type":"quantitative","scale":{"domain":[-1.58,131.84],"nice":false,"zero":false},"axis":null},"y":{"field":"v","type":"quantitative","scale":{"domain":[114.13,146.13],"nice":false,"zero":false}},"text":{"field":"t"}}}
]},
{"width":1014,"height":389,"layer":[
 {"data":{"values":[{"v":120}]},"mark":{"type":"rule","opacity":0},"encoding":{"y":{"field":"v","type":"quantitative","scale":{"domain":[118.27,143.91],"nice":false,"zero":false},"axis":{"orient":"right","offset":-53,"values":[120,122,124,126,128,130,132,134,136,138,140,142],"tickCount":40,"format":".2f","tickSize":5,"labelPadding":2,"labelOverlap":false,"title":null}}}},
 {"data":{"name":"bands"},"mark":{"type":"rect"},"encoding":{"x":{"field":"a","type":"quantitative","scale":{"domain":[-1.58,131.84],"nice":false,"zero":false},"axis":null},"x2":{"field":"b"},"color":{"field":"t","type":"nominal","scale":{"domain":["p","b"],"range":["#FFCCE6","#D5E0F6"]},"legend":null}}},
 {"data":{"name":"months"},"mark":{"type":"rule","color":"white","strokeWidth":1,"opacity":0.8},"encoding":{"x":{"field":"m","type":"quantitative","scale":{"domain":[-1.58,131.84],"nice":false,"zero":false},"axis":null}}},
 {"data":{"values":[{"v":120},{"v":126},{"v":132},{"v":138}]},"mark":{"type":"rule","color":"white","strokeWidth":1,"opacity":0.8},"encoding":{"x":{"datum":-1.58,"type":"quantitative","scale":{"domain":[-1.58,131.84],"nice":false,"zero":false},"axis":null},"x2":{"datum":124.8},"y":{"field":"v","type":"quantitative","scale":{"domain":[118.27,143.91],"nice":false,"zero":false}}}},
 {"data":{"values":[{"v":136.49}]},"mark":{"type":"rule","color":"#F5E030","strokeWidth":2,"strokeDash":[2,2]},"encoding":{"x":{"datum":-1.58,"type":"quantitative","scale":{"domain":[-1.58,131.84],"nice":false,"zero":false},"axis":null},"x2":{"datum":124.8},"y":{"field":"v","type":"quantitative","scale":{"domain":[118.27,143.91],"nice":false,"zero":false}}}},
 {"data":{"name":"levels"},"transform":[{"filter":"datum.k=='r'"}],"mark":{"type":"rule","color":"#E00000","strokeWidth":3},"encoding":{"x":{"datum":-1.58,"type":"quantitative","scale":{"domain":[-1.58,131.84],"nice":false,"zero":false},"axis":null},"x2":{"datum":113.2},"y":{"field":"v","type":"quantitative","scale":{"domain":[118.27,143.91],"nice":false,"zero":false}}}},
 {"data":{"name":"levels"},"transform":[{"filter":"datum.k=='b'"}],"mark":{"type":"rule","color":"#0010E0","strokeWidth":3},"encoding":{"x":{"datum":-1.58,"type":"quantitative","scale":{"domain":[-1.58,131.84],"nice":false,"zero":false},"axis":null},"x2":{"datum":113.2},"y":{"field":"v","type":"quantitative","scale":{"domain":[118.27,143.91],"nice":false,"zero":false}}}},
 {"data":{"name":"levels"},"mark":{"type":"rule","color":"#FF9AB0","strokeWidth":0.8},"encoding":{"x":{"datum":-1.58,"type":"quantitative","scale":{"domain":[-1.58,131.84],"nice":false,"zero":false},"axis":null},"x2":{"datum":113.2},"y":{"field":"v","type":"quantitative","scale":{"domain":[118.27,143.91],"nice":false,"zero":false}}}},
 {"data":{"name":"candles"},"mark":{"type":"rule","color":"black","strokeWidth":1},"encoding":{"x":{"field":"s","type":"quantitative","scale":{"domain":[-1.58,131.84],"nice":false,"zero":false},"axis":null},"y":{"field":"l","type":"quantitative","scale":{"domain":[118.27,143.91],"nice":false,"zero":false}},"y2":{"field":"h"}}},
 {"data":{"name":"candles"},"transform":[{"filter":"datum.k=='b'"}],"mark":{"type":"bar","orient":"vertical","size":6,"fill":"#0000DD","stroke":"black","strokeWidth":1},"encoding":{"x":{"field":"s","type":"quantitative","scale":{"domain":[-1.58,131.84],"nice":false,"zero":false},"axis":null},"y":{"field":"o","type":"quantitative","scale":{"domain":[118.27,143.91],"nice":false,"zero":false}},"y2":{"field":"c"}}},
 {"data":{"name":"candles"},"transform":[{"filter":"datum.k=='r'"}],"mark":{"type":"bar","orient":"vertical","size":6,"fill":"#EE0000","stroke":"black","strokeWidth":1},"encoding":{"x":{"field":"s","type":"quantitative","scale":{"domain":[-1.58,131.84],"nice":false,"zero":false},"axis":null},"y":{"field":"o","type":"quantitative","scale":{"domain":[118.27,143.91],"nice":false,"zero":false}},"y2":{"field":"c"}}},
 {"data":{"name":"candles"},"transform":[{"filter":"datum.k=='x'"}],"mark":{"type":"bar","orient":"vertical","size":6,"fill":"black","stroke":"black","strokeWidth":1},"encoding":{"x":{"field":"s","type":"quantitative","scale":{"domain":[-1.58,131.84],"nice":false,"zero":false},"axis":null},"y":{"field":"o","type":"quantitative","scale":{"domain":[118.27,143.91],"nice":false,"zero":false}},"y2":{"field":"c"}}},
 {"data":{"name":"sma200"},"transform":[{"filter":"datum.g!='k'"}],"mark":{"type":"line","color":"#8B1A8B","strokeWidth":2,"strokeDash":[6,3]},"encoding":{"x":{"field":"s","type":"quantitative","scale":{"domain":[-1.58,131.84],"nice":false,"zero":false},"axis":null},"y":{"field":"v","type":"quantitative","scale":{"domain":[118.27,143.91],"nice":false,"zero":false}},"detail":{"field":"g"}}},
 {"data":{"name":"sma200"},"transform":[{"filter":"datum.g=='k'"}],"mark":{"type":"line","color":"#222222","strokeWidth":2,"strokeDash":[6,3]},"encoding":{"x":{"field":"s","type":"quantitative","scale":{"domain":[-1.58,131.84],"nice":false,"zero":false},"axis":null},"y":{"field":"v","type":"quantitative","scale":{"domain":[118.27,143.91],"nice":false,"zero":false}}}},
 {"data":{"name":"sma50"},"mark":{"type":"line","color":"#141470","strokeWidth":3.5,"strokeDash":[10,5]},"encoding":{"x":{"field":"s","type":"quantitative","scale":{"domain":[-1.58,131.84],"nice":false,"zero":false},"axis":null},"y":{"field":"v","type":"quantitative","scale":{"domain":[118.27,143.91],"nice":false,"zero":false}}}},
 {"data":{"name":"sma20"},"transform":[{"filter":"datum.k=='up'"}],"mark":{"type":"line","color":"#228B22","strokeWidth":3},"encoding":{"x":{"field":"s","type":"quantitative","scale":{"domain":[-1.58,131.84],"nice":false,"zero":false},"axis":null},"y":{"field":"v","type":"quantitative","scale":{"domain":[118.27,143.91],"nice":false,"zero":false}},"detail":{"field":"g"}}},
 {"data":{"name":"sma20"},"transform":[{"filter":"datum.k=='dn'"}],"mark":{"type":"line","color":"#EE0000","strokeWidth":3},"encoding":{"x":{"field":"s","type":"quantitative","scale":{"domain":[-1.58,131.84],"nice":false,"zero":false},"axis":null},"y":{"field":"v","type":"quantitative","scale":{"domain":[118.27,143.91],"nice":false,"zero":false}},"detail":{"field":"g"}}},
 {"data":{"values":[{"v":138.74}]},"mark":{"type":"rule","color":"#EE0000","strokeWidth":3,"strokeDash":[6,3]},"encoding":{"x":{"datum":109.7,"type":"quantitative","scale":{"domain":[-1.58,131.84],"nice":false,"zero":false},"axis":null},"x2":{"datum":113.2},"y":{"field":"v","type":"quantitative","scale":{"domain":[118.27,143.91],"nice":false,"zero":false}}}},
 {"data":{"values":[{"v":142.18,"t":"L2 L3 L4"},{"v":139.37,"t":"L1"}]},"mark":{"type":"text","align":"left","baseline":"middle","fontSize":13,"fontWeight":"bold","color":"#EE0000"},"encoding":{"x":{"datum":115.4,"type":"quantitative","scale":{"domain":[-1.58,131.84],"nice":false,"zero":false},"axis":null},"y":{"field":"v","type":"quantitative","scale":{"domain":[118.27,143.91],"nice":false,"zero":false}},"text":{"field":"t"}}},
 {"data":{"values":[{"v":136.05,"t":"L1"},{"v":135.7,"t":"L2"},{"v":134.29,"t":"L3"}]},"mark":{"type":"text","align":"left","baseline":"middle","fontSize":13,"fontWeight":"bold","color":"#2020D0"},"encoding":{"x":{"datum":115.4,"type":"quantitative","scale":{"domain":[-1.58,131.84],"nice":false,"zero":false},"axis":null},"y":{"field":"v","type":"quantitative","scale":{"domain":[118.27,143.91],"nice":false,"zero":false}},"text":{"field":"t"}}},
 {"data":{"values":[{"t":"SPY (Daily)"}]},"mark":{"type":"text","align":"left","baseline":"middle","fontSize":11,"color":"black"},"encoding":{"x":{"datum":-1.3,"type":"quantitative","scale":{"domain":[-1.58,131.84],"nice":false,"zero":false},"axis":null},"y":{"datum":142.73,"type":"quantitative","scale":{"domain":[118.27,143.91],"nice":false,"zero":false}},"text":{"field":"t"}}},
 {"data":{"values":[{"v":138.12},{"v":138.77}]},"mark":{"type":"point","shape":"M -1 0 L -0.77 -0.25 L 1 -0.25 L 1 0.25 L -0.77 0.25 Z","size":1936,"filled":true,"fill":"#E00000","opacity":1,"strokeWidth":0},"encoding":{"x":{"datum":127.9,"type":"quantitative","scale":{"domain":[-1.58,131.84],"nice":false,"zero":false},"axis":null},"y":{"field":"v","type":"quantitative","scale":{"domain":[118.27,143.91],"nice":false,"zero":false}}}},
 {"data":{"values":[{"v":138.12,"t":"138.16"},{"v":138.77,"t":"138.74"}]},"mark":{"type":"text","align":"center","baseline":"middle","dx":2,"fontSize":11,"color":"white"},"encoding":{"x":{"datum":127.9,"type":"quantitative","scale":{"domain":[-1.58,131.84],"nice":false,"zero":false},"axis":null},"y":{"field":"v","type":"quantitative","scale":{"domain":[118.27,143.91],"nice":false,"zero":false}},"text":{"field":"t"}}},
 {"data":{"values":[{"v":136.49}]},"mark":{"type":"point","shape":"M -1 0 L -0.77 -0.25 L 1 -0.25 L 1 0.25 L -0.77 0.25 Z","size":1936,"filled":true,"fill":"black","opacity":1,"strokeWidth":0},"encoding":{"x":{"datum":127.9,"type":"quantitative","scale":{"domain":[-1.58,131.84],"nice":false,"zero":false},"axis":null},"y":{"field":"v","type":"quantitative","scale":{"domain":[118.27,143.91],"nice":false,"zero":false}}}},
 {"data":{"values":[{"v":127.85}]},"mark":{"type":"point","shape":"M -1 0 L -0.77 -0.25 L 1 -0.25 L 1 0.25 L -0.77 0.25 Z","size":1936,"filled":true,"fill":"#7A1050","opacity":1,"strokeWidth":0},"encoding":{"x":{"datum":127.9,"type":"quantitative","scale":{"domain":[-1.58,131.84],"nice":false,"zero":false},"axis":null},"y":{"field":"v","type":"quantitative","scale":{"domain":[118.27,143.91],"nice":false,"zero":false}}}},
 {"data":{"values":[{"v":136.49,"t":"136.49"},{"v":127.85,"t":"127.85"}]},"mark":{"type":"text","align":"center","baseline":"middle","dx":2,"fontSize":11,"color":"white"},"encoding":{"x":{"datum":127.9,"type":"quantitative","scale":{"domain":[-1.58,131.84],"nice":false,"zero":false},"axis":null},"y":{"field":"v","type":"quantitative","scale":{"domain":[118.27,143.91],"nice":false,"zero":false}},"text":{"field":"t"}}}
]},
{"width":1014,"height":187,"layer":[
 {"data":{"values":[{"v":20}]},"mark":{"type":"rule","opacity":0},"encoding":{"y":{"field":"v","type":"quantitative","scale":{"domain":[-1.8,107.6],"nice":false,"zero":false},"axis":{"orient":"right","offset":-53,"values":[20,40,60,80,100],"tickCount":20,"tickSize":5,"labelPadding":2,"title":null}}}},
 {"data":{"name":"bands"},"mark":{"type":"rect"},"encoding":{"x":{"field":"a","type":"quantitative","scale":{"domain":[-1.58,131.84],"nice":false,"zero":false},"axis":null},"x2":{"field":"b"},"color":{"field":"t","type":"nominal","scale":{"domain":["p","b"],"range":["#FFCCE6","#D5E0F6"]},"legend":null}}},
 {"data":{"name":"months"},"mark":{"type":"rule","color":"white","strokeWidth":1,"opacity":0.8},"encoding":{"x":{"field":"m","type":"quantitative","scale":{"domain":[-1.58,131.84],"nice":false,"zero":false},"axis":null}}},
 {"data":{"values":[{"v":20},{"v":80}]},"mark":{"type":"rule","color":"white","strokeWidth":1,"opacity":0.8},"encoding":{"x":{"datum":-1.58,"type":"quantitative","scale":{"domain":[-1.58,131.84],"nice":false,"zero":false},"axis":null},"x2":{"datum":124.8},"y":{"field":"v","type":"quantitative","scale":{"domain":[-1.8,107.6],"nice":false,"zero":false}}}},
 {"data":{"values":[{"v":68.6}]},"mark":{"type":"rule","color":"#117711","strokeWidth":2,"strokeDash":[6,4]},"encoding":{"x":{"datum":-1.58,"type":"quantitative","scale":{"domain":[-1.58,131.84],"nice":false,"zero":false},"axis":null},"x2":{"datum":124.8},"y":{"field":"v","type":"quantitative","scale":{"domain":[-1.8,107.6],"nice":false,"zero":false}}}},
 {"data":{"values":[{"v":32.2}]},"mark":{"type":"rule","color":"#EE0000","strokeWidth":2,"strokeDash":[6,4]},"encoding":{"x":{"datum":-1.58,"type":"quantitative","scale":{"domain":[-1.58,131.84],"nice":false,"zero":false},"axis":null},"x2":{"datum":124.8},"y":{"field":"v","type":"quantitative","scale":{"domain":[-1.8,107.6],"nice":false,"zero":false}}}},
 {"data":{"name":"dS"},"transform":[{"filter":"datum.k=='b'"}],"mark":{"type":"line","color":"#0000DD","strokeWidth":4},"encoding":{"x":{"field":"s","type":"quantitative","scale":{"domain":[-1.58,131.84],"nice":false,"zero":false},"axis":null},"y":{"field":"v","type":"quantitative","scale":{"domain":[-1.8,107.6],"nice":false,"zero":false}},"detail":{"field":"g"}}},
 {"data":{"name":"dS"},"transform":[{"filter":"datum.k=='r'"}],"mark":{"type":"line","color":"#EE0000","strokeWidth":4},"encoding":{"x":{"field":"s","type":"quantitative","scale":{"domain":[-1.58,131.84],"nice":false,"zero":false},"axis":null},"y":{"field":"v","type":"quantitative","scale":{"domain":[-1.8,107.6],"nice":false,"zero":false}},"detail":{"field":"g"}}},
 {"data":{"name":"dK"},"mark":{"type":"line","color":"#3D96E8","strokeWidth":3,"strokeDash":[8,4]},"encoding":{"x":{"field":"s","type":"quantitative","scale":{"domain":[-1.58,131.84],"nice":false,"zero":false},"axis":null},"y":{"field":"v","type":"quantitative","scale":{"domain":[-1.8,107.6],"nice":false,"zero":false}}}},
 {"data":{"values":[{"t":"Daily"}]},"mark":{"type":"text","align":"left","baseline":"middle","fontSize":11,"color":"black"},"encoding":{"x":{"datum":-1.3,"type":"quantitative","scale":{"domain":[-1.58,131.84],"nice":false,"zero":false},"axis":null},"y":{"datum":98.2,"type":"quantitative","scale":{"domain":[-1.8,107.6],"nice":false,"zero":false}},"text":{"field":"t"}}},
 {"data":{"values":[{"v":24.4}]},"mark":{"type":"point","shape":"M -1 0 L -0.72 -0.31 L 1 -0.31 L 1 0.31 L -0.72 0.31 Z","size":1296,"filled":true,"fill":"#3D96E8","opacity":1,"strokeWidth":0},"encoding":{"x":{"datum":127.4,"type":"quantitative","scale":{"domain":[-1.58,131.84],"nice":false,"zero":false},"axis":null},"y":{"field":"v","type":"quantitative","scale":{"domain":[-1.8,107.6],"nice":false,"zero":false}}}},
 {"data":{"values":[{"v":24.4,"t":"21.61"}]},"mark":{"type":"text","align":"center","baseline":"middle","dx":2,"fontSize":11,"color":"white"},"encoding":{"x":{"datum":127.4,"type":"quantitative","scale":{"domain":[-1.58,131.84],"nice":false,"zero":false},"axis":null},"y":{"field":"v","type":"quantitative","scale":{"domain":[-1.8,107.6],"nice":false,"zero":false}},"text":{"field":"t"}}},
 {"data":{"values":[{"v":19.3}]},"mark":{"type":"point","shape":"M -1 0 L -0.72 -0.31 L 1 -0.31 L 1 0.31 L -0.72 0.31 Z","size":1296,"filled":true,"fill":"#E00000","opacity":1,"strokeWidth":0},"encoding":{"x":{"datum":127.4,"type":"quantitative","scale":{"domain":[-1.58,131.84],"nice":false,"zero":false},"axis":null},"y":{"field":"v","type":"quantitative","scale":{"domain":[-1.8,107.6],"nice":false,"zero":false}}}},
 {"data":{"values":[{"v":19.3,"t":"19.74"}]},"mark":{"type":"text","align":"center","baseline":"middle","dx":2,"fontSize":11,"color":"white"},"encoding":{"x":{"datum":127.4,"type":"quantitative","scale":{"domain":[-1.58,131.84],"nice":false,"zero":false},"axis":null},"y":{"field":"v","type":"quantitative","scale":{"domain":[-1.8,107.6],"nice":false,"zero":false}},"text":{"field":"t"}}}
]},
{"width":1014,"height":131,"layer":[
 {"data":{"values":[{"v":40}]},"mark":{"type":"rule","opacity":0},"encoding":{"y":{"field":"v","type":"quantitative","scale":{"domain":[37.5,102.1],"nice":false,"zero":false},"axis":{"orient":"right","offset":-53,"values":[40,60,80,100],"tickCount":20,"tickSize":5,"labelPadding":2,"title":null}}}},
 {"data":{"name":"bands"},"mark":{"type":"rect"},"encoding":{"x":{"field":"a","type":"quantitative","scale":{"domain":[-1.58,131.84],"nice":false,"zero":false},"axis":null},"x2":{"field":"b"},"color":{"field":"t","type":"nominal","scale":{"domain":["p","b"],"range":["#FFCCE6","#D5E0F6"]},"legend":null}}},
 {"data":{"name":"months"},"mark":{"type":"rule","color":"white","strokeWidth":1,"opacity":0.8},"encoding":{"x":{"field":"m","type":"quantitative","scale":{"domain":[-1.58,131.84],"nice":false,"zero":false},"axis":null}}},
 {"data":{"values":[{"v":40},{"v":100}]},"mark":{"type":"rule","color":"white","strokeWidth":1,"opacity":0.8},"encoding":{"x":{"datum":-1.58,"type":"quantitative","scale":{"domain":[-1.58,131.84],"nice":false,"zero":false},"axis":null},"x2":{"datum":124.8},"y":{"field":"v","type":"quantitative","scale":{"domain":[37.5,102.1],"nice":false,"zero":false}}}},
 {"data":{"values":[{"v":68.6}]},"mark":{"type":"rule","color":"#117711","strokeWidth":2,"strokeDash":[6,4]},"encoding":{"x":{"datum":-1.58,"type":"quantitative","scale":{"domain":[-1.58,131.84],"nice":false,"zero":false},"axis":null},"x2":{"datum":124.8},"y":{"field":"v","type":"quantitative","scale":{"domain":[37.5,102.1],"nice":false,"zero":false}}}},
 {"data":{"name":"wS"},"transform":[{"filter":"datum.k=='b'"}],"mark":{"type":"line","color":"#0000DD","strokeWidth":4},"encoding":{"x":{"field":"s","type":"quantitative","scale":{"domain":[-1.58,131.84],"nice":false,"zero":false},"axis":null},"y":{"field":"v","type":"quantitative","scale":{"domain":[37.5,102.1],"nice":false,"zero":false}}}},
 {"data":{"name":"wS"},"transform":[{"filter":"datum.k=='r'"}],"mark":{"type":"line","color":"#EE0000","strokeWidth":4},"encoding":{"x":{"field":"s","type":"quantitative","scale":{"domain":[-1.58,131.84],"nice":false,"zero":false},"axis":null},"y":{"field":"v","type":"quantitative","scale":{"domain":[37.5,102.1],"nice":false,"zero":false}}}},
 {"data":{"name":"wK"},"mark":{"type":"line","color":"#3D96E8","strokeWidth":3,"strokeDash":[8,4]},"encoding":{"x":{"field":"s","type":"quantitative","scale":{"domain":[-1.58,131.84],"nice":false,"zero":false},"axis":null},"y":{"field":"v","type":"quantitative","scale":{"domain":[37.5,102.1],"nice":false,"zero":false}}}},
 {"data":{"values":[{"t":"Weekly"}]},"mark":{"type":"text","align":"left","baseline":"middle","fontSize":11,"color":"black"},"encoding":{"x":{"datum":-1.3,"type":"quantitative","scale":{"domain":[-1.58,131.84],"nice":false,"zero":false},"axis":null},"y":{"datum":93.7,"type":"quantitative","scale":{"domain":[37.5,102.1],"nice":false,"zero":false}},"text":{"field":"t"}}},
 {"data":{"values":[{"v":50}]},"mark":{"type":"point","shape":"M -1 0 L -0.5 -0.6 L 1 -0.6 L 1 0.6 L -0.5 0.6 Z","size":400,"filled":true,"fill":"#E00000","opacity":1,"strokeWidth":0},"encoding":{"x":{"datum":126.3,"type":"quantitative","scale":{"domain":[-1.58,131.84],"nice":false,"zero":false},"axis":null},"y":{"field":"v","type":"quantitative","scale":{"domain":[37.5,102.1],"nice":false,"zero":false}}}},
 {"data":{"values":[{"v":50,"t":"50"}]},"mark":{"type":"text","align":"center","baseline":"middle","dx":2,"fontSize":11,"color":"white"},"encoding":{"x":{"datum":126.3,"type":"quantitative","scale":{"domain":[-1.58,131.84],"nice":false,"zero":false},"axis":null},"y":{"field":"v","type":"quantitative","scale":{"domain":[37.5,102.1],"nice":false,"zero":false}},"text":{"field":"t"}}},
 {"data":{"values":[{"v":42.8}]},"mark":{"type":"point","shape":"M -1 0 L -0.67 -0.4 L 1 -0.4 L 1 0.4 L -0.67 0.4 Z","size":900,"filled":true,"fill":"#3D96E8","opacity":1,"strokeWidth":0},"encoding":{"x":{"datum":127.0,"type":"quantitative","scale":{"domain":[-1.58,131.84],"nice":false,"zero":false},"axis":null},"y":{"field":"v","type":"quantitative","scale":{"domain":[37.5,102.1],"nice":false,"zero":false}}}},
 {"data":{"values":[{"v":42.8,"t":"42.8"}]},"mark":{"type":"text","align":"center","baseline":"middle","dx":2,"fontSize":11,"color":"white"},"encoding":{"x":{"datum":127.0,"type":"quantitative","scale":{"domain":[-1.58,131.84],"nice":false,"zero":false},"axis":null},"y":{"field":"v","type":"quantitative","scale":{"domain":[37.5,102.1],"nice":false,"zero":false}},"text":{"field":"t"}}}
]},
{"width":1014,"height":64,"layer":[
 {"data":{"values":[{"v":200}]},"mark":{"type":"rule","opacity":0},"encoding":{"y":{"field":"v","type":"quantitative","scale":{"domain":[-16.7,250],"nice":false,"zero":false},"axis":{"orient":"right","offset":-53,"values":[200],"labelExpr":"'200M'","tickSize":5,"labelPadding":2,"title":null}}}},
 {"data":{"name":"bands"},"mark":{"type":"rect"},"encoding":{"x":{"field":"a","type":"quantitative","scale":{"domain":[-1.58,131.84],"nice":false,"zero":false},"axis":null},"x2":{"field":"b"},"color":{"field":"t","type":"nominal","scale":{"domain":["p","b"],"range":["#FFCCE6","#D5E0F6"]},"legend":null}}},
 {"data":{"name":"months"},"mark":{"type":"rule","color":"white","strokeWidth":1,"opacity":0.8},"encoding":{"x":{"field":"m","type":"quantitative","scale":{"domain":[-1.58,131.84],"nice":false,"zero":false},"axis":null}}},
 {"data":{"name":"vol"},"transform":[{"filter":"datum.k=='u'"}],"mark":{"type":"bar","orient":"vertical","size":5,"fill":"#00EE00"},"encoding":{"x":{"field":"s","type":"quantitative","scale":{"domain":[-1.58,131.84],"nice":false,"zero":false},"axis":null},"y":{"field":"v","type":"quantitative","scale":{"domain":[-16.7,250],"nice":false,"zero":false}}}},
 {"data":{"name":"vol"},"transform":[{"filter":"datum.k=='d'"}],"mark":{"type":"bar","orient":"vertical","size":5,"fill":"#EE0000"},"encoding":{"x":{"field":"s","type":"quantitative","scale":{"domain":[-1.58,131.84],"nice":false,"zero":false},"axis":null},"y":{"field":"v","type":"quantitative","scale":{"domain":[-16.7,250],"nice":false,"zero":false}}}},
 {"data":{"name":"volsma"},"mark":{"type":"line","color":"#2626CC","strokeWidth":1.2},"encoding":{"x":{"field":"s","type":"quantitative","scale":{"domain":[-1.58,131.84],"nice":false,"zero":false},"axis":null},"y":{"field":"v","type":"quantitative","scale":{"domain":[-16.7,250],"nice":false,"zero":false}}}},
 {"data":{"values":[{"v":175,"t":"Volume & 10 SMA"},{"v":12.5,"t":"\u00a9 2012 NinjaTrader, LLC"}]},"mark":{"type":"text","align":"left","baseline":"middle","fontSize":11,"color":"black"},"encoding":{"x":{"datum":-1.3,"type":"quantitative","scale":{"domain":[-1.58,131.84],"nice":false,"zero":false},"axis":null},"y":{"field":"v","type":"quantitative","scale":{"domain":[-16.7,250],"nice":false,"zero":false}},"text":{"field":"t"}}},
 {"data":{"values":[{"v":0.664}]},"mark":{"type":"point","shape":"M -1 0 L -0.7 -0.35 L 1 -0.35 L 1 0.35 L -0.7 0.35 Z","size":1156,"filled":true,"fill":"#22DD22","opacity":1,"stroke":"#118811","strokeWidth":0.5},"encoding":{"x":{"datum":127.2,"type":"quantitative","scale":{"domain":[-1.58,131.84],"nice":false,"zero":false},"axis":null},"y":{"field":"v","type":"quantitative","scale":{"domain":[-16.7,250],"nice":false,"zero":false}}}},
 {"data":{"values":[{"v":0.664,"t":"664K"}]},"mark":{"type":"text","align":"center","baseline":"middle","dx":2,"fontSize":11,"color":"#003300"},"encoding":{"x":{"datum":127.2,"type":"quantitative","scale":{"domain":[-1.58,131.84],"nice":false,"zero":false},"axis":null},"y":{"field":"v","type":"quantitative","scale":{"domain":[-16.7,250],"nice":false,"zero":false}},"text":{"field":"t"}}}
]},
{"width":1014,"height":45,"data":{"name":"months"},"mark":{"type":"rule","opacity":0},"encoding":{"x":{"field":"m","type":"quantitative","scale":{"domain":[-1.58,131.84],"nice":false,"zero":false},"axis":{"orient":"bottom","offset":-45,"values":[19.08,41.18,62.37,84.34,105.4],"tickCount":20,"labelExpr":"datum.value < 30 ? '12' : datum.value < 50 ? 'Feb' : datum.value < 70 ? 'Mar' : datum.value < 90 ? 'Apr' : 'May'","tickSize":5,"labelPadding":2,"labelFontSize":12,"domain":false,"title":null}}}}
]
}
